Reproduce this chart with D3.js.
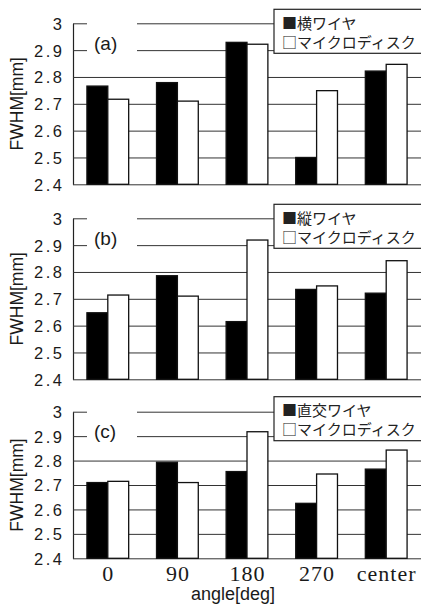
<!DOCTYPE html>
<html>
<head>
<meta charset="utf-8">
<script src="https://cdn.jsdelivr.net/npm/d3@7"></script>
<style>
  body { margin: 0; background: #fff; }
  svg { display: block; }
  .tick text { font-family: "Liberation Sans", Arial, sans-serif; }
</style>
</head>
<body>
<div id="chart"></div>
<script>
var categories = ['0', '90', '180', '270', 'center'];
var panelLabels = ['(a)', '(b)', '(c)'];
var wireLabels = ['横ワイヤ', '縦ワイヤ', '直交ワイヤ'];
var diskLabel = 'マイクロディスク';

var horizWire = [2.766, 2.779, 2.929, 2.500, 2.822];
var horizDisk = [2.717, 2.710, 2.922, 2.749, 2.847];
var vertWire = [2.648, 2.786, 2.615, 2.735, 2.721];
var vertDisk = [2.714, 2.710, 2.919, 2.748, 2.842];
var crossWire = [2.710, 2.793, 2.755, 2.625, 2.765];
var crossDisk = [2.715, 2.710, 2.918, 2.745, 2.843];

var yTicks = [2.4, 2.5, 2.6, 2.7, 2.8, 2.9, 3.0];
var yLabel = 'FWHM[mm]';
var xLabel = 'angle[deg]';

var width = 421;
var height = 606;
var left = 73;
var right = 421;

// vertical placement of each panel (plot top / bottom, legend top)
var layout = [
    {top: 23.3, bottom: 184.3, legendTop: 9.3},
    {top: 218.3, bottom: 379.3, legendTop: 204.3},
    {top: 411.7, bottom: 558.3, legendTop: 396.7}
];
var wireData = [horizWire, vertWire, crossWire];
var diskData = [horizDisk, vertDisk, crossDisk];

var svg = d3.select('#chart')
    .append('svg')
    .attr('width', width)
    .attr('height', height);

svg.append('rect')
    .attr('width', width)
    .attr('height', height)
    .attr('fill', '#fff');

var xScale = d3.scaleBand()
    .domain(categories)
    .range([left, right])
    .paddingInner(0.4)
    .paddingOuter(0.2);

var subScale = d3.scaleBand()
    .domain(['wire', 'disk'])
    .range([0, xScale.bandwidth()]);

var yFormat = function (d) {
    return d === 3 ? '3' : d.toFixed(1);
};

layout.forEach(function (p, i) {

    var yScale = d3.scaleLinear()
        .domain([2.4, 3.0])
        .range([p.bottom, p.top]);

    var g = svg.append('g');

    // gridlines + tick labels
    var yAxis = d3.axisLeft(yScale)
        .tickValues(yTicks)
        .tickFormat(yFormat)
        .tickSize(-(right - left))
        .tickSizeOuter(0);

    var axisG = g.append('g')
        .attr('transform', 'translate(' + left + ',0)')
        .call(yAxis);

    axisG.select('.domain')
        .attr('stroke', '#222')
        .attr('stroke-width', 1.2);
    axisG.selectAll('.tick line')
        .attr('stroke', '#333')
        .attr('stroke-width', 1);
    axisG.selectAll('.tick text')
        .attr('x', -8.5)
        .attr('dy', '0.36em')
        .attr('fill', '#1a1a1a')
        .style('font-size', '16.5px')
        .style('letter-spacing', '2.5px');

    var rows = categories.map(function (c, k) {
        return {cat: c, wire: wireData[i][k], disk: diskData[i][k]};
    });

    var groups = g.selectAll('g.cat')
        .data(rows)
        .enter()
        .append('g')
        .attr('class', 'cat')
        .attr('transform', function (d) {
            return 'translate(' + xScale(d.cat) + ',0)';
        });

    groups.selectAll('rect')
        .data(function (d) {
            return [{key: 'wire', value: d.wire}, {key: 'disk', value: d.disk}];
        })
        .enter()
        .append('rect')
        .attr('x', function (d) {
            return subScale(d.key);
        })
        .attr('y', function (d) {
            return yScale(d.value);
        })
        .attr('width', subScale.bandwidth())
        .attr('height', function (d) {
            return yScale(2.4) - yScale(d.value);
        })
        .attr('fill', function (d) {
            return d.key === 'wire' ? '#000' : '#fff';
        })
        .attr('stroke', '#111')
        .attr('stroke-width', 1.3);

    // panel label with white backing
    g.append('rect')
        .attr('x', 87)
        .attr('y', p.top - 6)
        .attr('width', 50)
        .attr('height', 36)
        .attr('fill', '#fff');

    g.append('text')
        .attr('x', 94)
        .attr('y', p.top + 20)
        .attr('dy', '0.35em')
        .style('font-family', '"Liberation Sans", Arial, sans-serif')
        .style('font-size', '19px')
        .attr('fill', '#1a1a1a')
        .text(panelLabels[i]);

    // legend
    g.append('rect')
        .attr('x', 274)
        .attr('y', p.legendTop)
        .attr('width', 160)
        .attr('height', 44)
        .attr('fill', '#fff')
        .attr('stroke', '#222')
        .attr('stroke-width', 1.2);

    g.append('text')
        .attr('x', 282)
        .attr('y', p.legendTop + 14)
        .attr('dy', '0.36em')
        .style('font-family', '"Noto Sans CJK JP", sans-serif')
        .style('font-size', '15px')
        .attr('fill', '#222')
        .text('■' + wireLabels[i]);

    g.append('text')
        .attr('x', 282)
        .attr('y', p.legendTop + 33)
        .attr('dy', '0.36em')
        .style('font-family', '"Noto Sans CJK JP", sans-serif')
        .style('font-size', '15px')
        .attr('fill', '#222')
        .text('□' + diskLabel);

    // y axis title
    g.append('text')
        .attr('transform', 'rotate(-90)')
        .attr('x', -(p.top + p.bottom) / 2)
        .attr('y', 17)
        .attr('dy', '0.35em')
        .style('text-anchor', 'middle')
        .style('font-family', '"Liberation Sans", Arial, sans-serif')
        .style('font-size', '17.5px')
        .attr('fill', '#1a1a1a')
        .text(yLabel);

    if (i === layout.length - 1) {
        var xAxis = d3.axisBottom(xScale)
            .tickSize(0)
            .tickSizeOuter(0);

        var xG = g.append('g')
            .attr('transform', 'translate(0,' + p.bottom + ')')
            .call(xAxis);

        xG.select('.domain').remove();
        xG.selectAll('.tick text')
            .attr('y', 23)
            .attr('dy', 0)
            .attr('dx', '0.5px')
            .attr('fill', '#1a1a1a')
            .style('font-family', '"Liberation Serif", "Times New Roman", serif')
            .style('font-size', '22px')
            .style('letter-spacing', '1px');

        svg.append('text')
            .attr('x', 233)
            .attr('y', 600)
            .style('text-anchor', 'middle')
            .style('font-family', '"Liberation Sans", Arial, sans-serif')
            .style('font-size', '18px')
            .attr('fill', '#1a1a1a')
            .text(xLabel);
    }
});
</script>
</body>
</html>
